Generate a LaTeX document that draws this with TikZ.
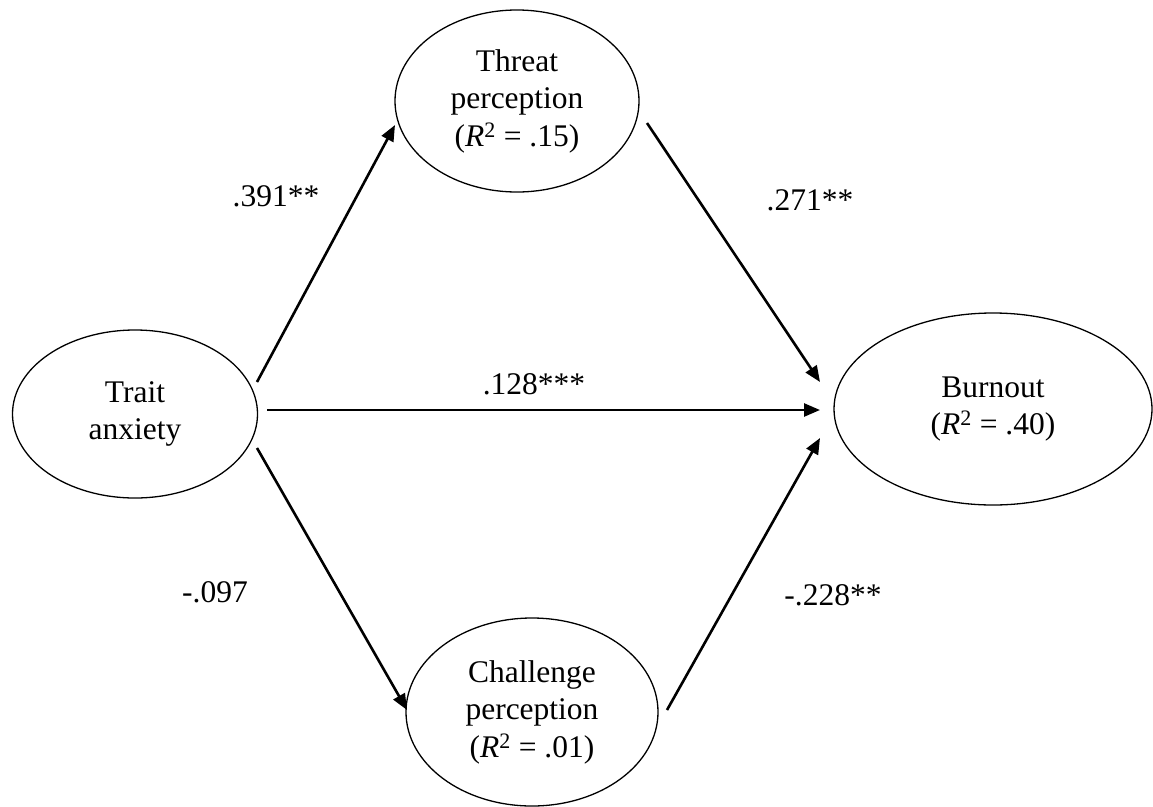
\documentclass[tikz,border=0pt]{standalone}
\usepackage{fontspec}
\setmainfont{Liberation Serif}
\usetikzlibrary{shapes.geometric,arrows.meta}
\begin{document}
\begin{tikzpicture}[x=1pt,y=-1pt,
  latent/.style={draw,ellipse,line width=1.3pt,inner sep=0pt,align=center,
    font=\fontsize{31.5}{37.5}\selectfont},
  path/.style={line width=2.6pt,-{Triangle[length=16pt,width=13pt]}},
  coef/.style={font=\fontsize{31.5}{37.5}\selectfont,inner sep=0pt}]
\useasboundingbox (0,0) rectangle (1153,806);
\node[latent,minimum width=245pt,minimum height=168pt] (trait) at (135,414) {Trait\\anxiety};
\node[latent,minimum width=244pt,minimum height=182pt] (threat) at (517,101) {Threat\\perception\\(\textit{R}\textsuperscript{2} = .15)};
\node[latent,minimum width=252pt,minimum height=188pt] (chal) at (532,712) {Challenge\\perception\\(\textit{R}\textsuperscript{2} = .01)};
\node[latent,minimum width=318pt,minimum height=192pt] (burn) at (993,409) {Burnout\\(\textit{R}\textsuperscript{2} = .40)};
\coordinate (t1) at (257,382);
\coordinate (t2) at (267,410);
\coordinate (t3) at (257,448);
\coordinate (h1) at (395,125);
\coordinate (c1) at (407,710);
\coordinate (h2) at (647,123);
\coordinate (c2) at (667,710);
\coordinate (b1) at (820,382);
\coordinate (b2) at (820,410);
\coordinate (b3) at (820,438);
\draw[path] (t1) -- (h1);
\draw[path] (t2) -- (b2);
\draw[path] (t3) -- (c1);
\draw[path] (h2) -- (b1);
\draw[path] (c2) -- (b3);
\node[coef] (l1) at (276,196) {.391**};
\node[coef] (l2) at (810,200) {.271**};
\node[coef] (l3) at (534,384) {.128***};
\node[coef] (l4) at (215,592) {-.097};
\node[coef] (l5) at (833,595) {-.228**};
\end{tikzpicture}
\end{document}
